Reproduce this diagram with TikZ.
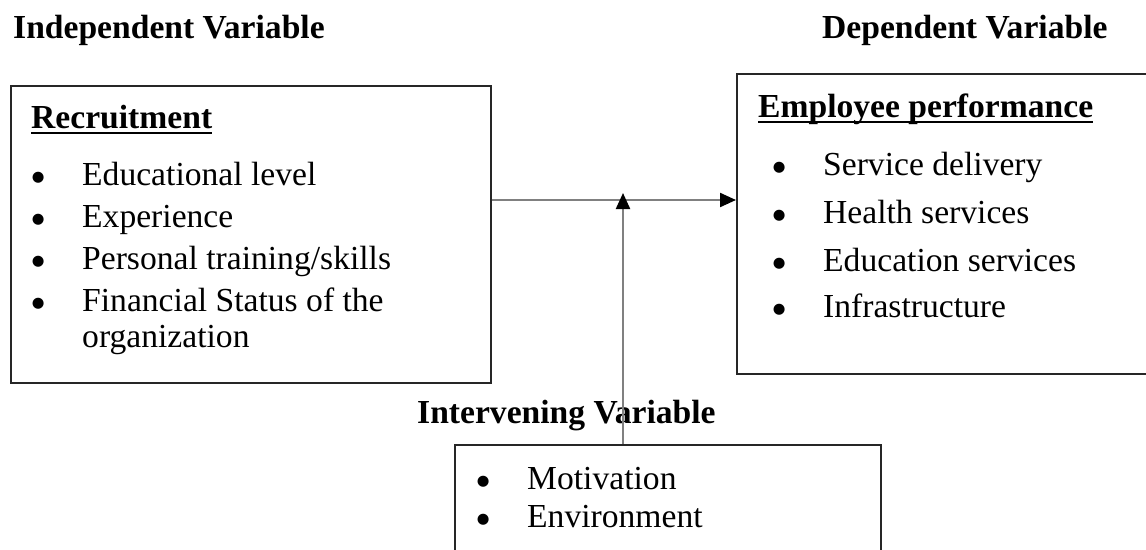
\documentclass[tikz,border=0pt]{standalone}
\usepackage{fontspec}
\setmainfont{Liberation Serif}
\newfontfamily\bulletfont{DejaVu Sans}
\usetikzlibrary{arrows.meta}

% bold heading with a rule set at a fixed distance under the baseline
\newcommand\ulhead[1]{\setbox0\hbox{#1}\rlap{\rule[-6pt]{\wd0}{2pt}}\box0}
% bullet hanging to the left of an item, centred 44pt before the text
\newcommand\itembullet{\llap{\makebox[0pt][c]{\raisebox{3.5pt}{\fontsize{14.5}{14.5}\bulletfont ●}}\hspace{44pt}}}

\begin{document}
\begin{tikzpicture}[x=1pt,y=-1pt,
  frame/.style={draw=black!85,line width=1.6pt,fill=none,anchor=north west,inner sep=0pt},
  heading/.style={anchor=base west,inner sep=0pt,font=\fontsize{33.6}{40}\selectfont\bfseries},
  entry/.style={anchor=base west,inner sep=0pt,font=\fontsize{33.6}{40}\selectfont},
  link/.style={draw=black!50,line width=2.2pt,-{Triangle[length=16pt,width=14pt,color=black]}}]
\useasboundingbox (0,0) rectangle (1146,549);
\clip (0,0) rectangle (1146,549);

% boxes
\node[frame,minimum width=480pt,minimum height=297pt] (rec) at (10,85) {};
\node[frame,minimum width=430pt,minimum height=300pt] (emp) at (736,73) {};
\node[frame,minimum width=426pt,minimum height=140pt] (mot) at (454,444) {};

% column headings
\node[heading] (hind) at (13,38) {Independent Variable};
\node[heading] (hdep) at (822,38) {Dependent Variable};
\node[heading] (hint) at (417,423) {Intervening Variable};

% independent variable
\node[heading] (rtitle) at (31,128) {\ulhead{Recruitment}};
\node[entry] (r1) at (82,185) {\itembullet Educational level};
\node[entry] (r2) at (82,227) {\itembullet Experience};
\node[entry] (r3) at (82,269) {\itembullet Personal training/skills};
\node[entry] (r4) at (82,311) {\itembullet Financial Status of the};
\node[entry] (r4b) at (82,347) {organization};

% dependent variable
\node[heading] (etitle) at (758,117) {\ulhead{Employee performance}};
\node[entry] (e1) at (823,175) {\itembullet Service delivery};
\node[entry] (e2) at (823,223) {\itembullet Health services};
\node[entry] (e3) at (823,271) {\itembullet Education services};
\node[entry] (e4) at (823,317) {\itembullet Infrastructure};

% intervening variable
\node[entry] (m1) at (527,489) {\itembullet Motivation};
\node[entry] (m2) at (527,527) {\itembullet Environment};

% connectors
\coordinate (flow) at (623,200);
\coordinate (join) at (623,193);
\draw[link] (rec.east |- flow) -- (emp.west |- flow);
\draw[link] (mot.north -| join) -- (join);
\end{tikzpicture}
\end{document}
